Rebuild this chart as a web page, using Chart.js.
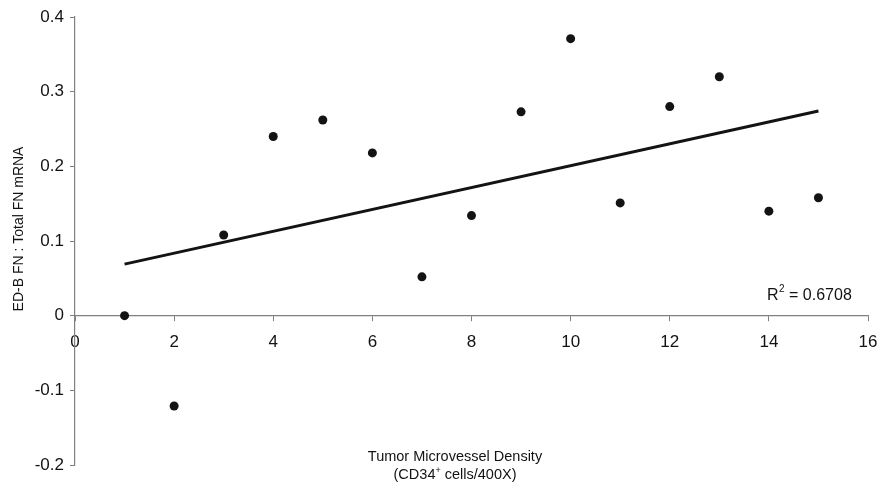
<!DOCTYPE html>
<html>
<head>
<meta charset="utf-8">
<script src="https://cdn.jsdelivr.net/npm/chart.js@4/dist/chart.umd.min.js"></script>
<style>
  html, body { margin: 0; padding: 0; background: #fff; }
  #wrap { width: 880px; height: 490px; }
</style>
</head>
<body>
<div id="wrap"><canvas id="c" width="880" height="490"></canvas></div>
<script>
// ---- data ----
const densities = [1, 2, 3, 4, 5, 6, 7, 8, 9, 10, 11, 12, 13, 14, 15];
const ratios = [0.0, -0.121, 0.108, 0.240, 0.262, 0.218, 0.052, 0.134, 0.273, 0.371, 0.151, 0.280, 0.320, 0.140, 0.158];
const trendX = [1, 15];
const trendY = [0.069, 0.274];
const rSquaredText = '0.6708';
const yTitle = 'ED-B FN : Total FN mRNA';
const xTitleLine1 = 'Tumor Microvessel Density';
const xTitleLine2a = '(CD34';
const xTitleLine2sup = '+';
const xTitleLine2b = ' cells/400X)';

const FONT = '"Liberation Sans", Arial, Helvetica, sans-serif';
const INK = '#141213';
const AXIS = '#808080';

const points = densities.map((d, i) => ({ x: d, y: ratios[i] }));
const trend = trendX.map((d, i) => ({ x: d, y: trendY[i] }));

const textPlugin = {
  id: 'texts',
  afterDraw(chart) {
    const ctx = chart.ctx;
    ctx.save();
    ctx.fillStyle = INK;
    // y title
    ctx.save();
    ctx.translate(19, 229);
    ctx.rotate(-Math.PI / 2);
    ctx.font = '14px ' + FONT;
    ctx.textAlign = 'center';
    ctx.textBaseline = 'middle';
    ctx.fillText(yTitle, 0, 0);
    ctx.restore();

    // x title line 1
    const cx = 455;
    ctx.font = '14.5px ' + FONT;
    ctx.textAlign = 'center';
    ctx.textBaseline = 'alphabetic';
    ctx.fillText(xTitleLine1, cx, 461);
    // x title line 2 with superscript
    ctx.textAlign = 'left';
    ctx.font = '14.5px ' + FONT;
    const wa = ctx.measureText(xTitleLine2a).width;
    const wb = ctx.measureText(xTitleLine2b).width;
    ctx.font = '9px ' + FONT;
    const ws = ctx.measureText(xTitleLine2sup).width;
    let x0 = cx - (wa + ws + wb) / 2;
    ctx.font = '14.5px ' + FONT;
    ctx.fillText(xTitleLine2a, x0, 479);
    ctx.font = '9px ' + FONT;
    ctx.fillText(xTitleLine2sup, x0 + wa, 473);
    ctx.font = '14.5px ' + FONT;
    ctx.fillText(xTitleLine2b, x0 + wa + ws, 479);

    // R^2 label
    let rx = 767;
    ctx.font = '16px ' + FONT;
    ctx.fillText('R', rx, 300);
    rx += ctx.measureText('R').width;
    ctx.font = '10px ' + FONT;
    ctx.fillText('2', rx + 0.5, 292);
    rx += ctx.measureText('2').width + 0.5;
    ctx.font = '16px ' + FONT;
    ctx.fillText(' = ' + rSquaredText, rx, 300);
    ctx.restore();
  }
};

new Chart(document.getElementById('c'), {
  type: 'scatter',
  data: {
    datasets: [
      {
        label: 'data',
        data: points,
        pointRadius: 4.5,
        pointHoverRadius: 4.5,
        backgroundColor: INK,
        borderColor: INK,
        borderWidth: 0,
        showLine: false
      },
      {
        label: 'trend',
        data: trend,
        showLine: true,
        pointRadius: 0,
        borderColor: INK,
        borderWidth: 3,
        fill: false
      }
    ]
  },
  options: {
    responsive: false,
    animation: false,
    events: [],
    layout: { padding: { left: 0, right: 12, top: 17, bottom: 25 } },
    plugins: { legend: { display: false }, tooltip: { enabled: false }, title: { display: false } },
    scales: {
      x: {
        type: 'linear',
        position: { y: 0 },
        min: 0,
        max: 16,
        ticks: {
          stepSize: 2,
          color: INK,
          padding: 11,
          maxRotation: 0,
          font: { family: FONT, size: 17 }
        },
        grid: { display: true, drawOnChartArea: false, drawTicks: true, tickLength: 5, tickColor: AXIS, tickWidth: 1 },
        border: { display: true, color: AXIS, width: 1.2 },
        afterFit: s => { s.height = 0; s.paddingRight = 0; s.paddingLeft = 0; }
      },
      y: {
        type: 'linear',
        min: -0.2,
        max: 0.4,
        ticks: {
          stepSize: 0.1,
          color: INK,
          padding: 6,
          font: { family: FONT, size: 17 },
          callback: v => Math.abs(v) < 1e-9 ? '0' : v.toFixed(1)
        },
        grid: { display: true, drawOnChartArea: false, drawTicks: true, tickLength: 5, tickColor: AXIS, tickWidth: 1 },
        border: { display: true, color: AXIS, width: 1.2 },
        afterFit: s => { s.width = 75; }
      }
    }
  },
  plugins: [textPlugin]
});
</script>
</body>
</html>
